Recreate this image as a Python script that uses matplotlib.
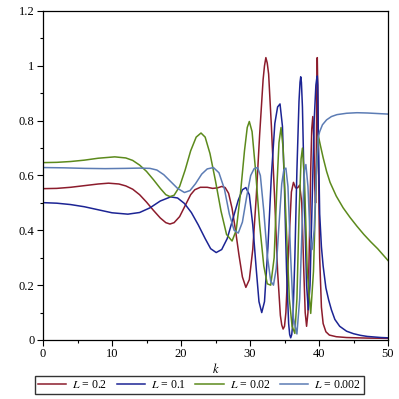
import matplotlib
matplotlib.use("Agg")
import matplotlib.pyplot as plt
from matplotlib.ticker import MultipleLocator, FuncFormatter

plt.rcParams['font.family'] = ['Liberation Serif', 'DejaVu Serif']
plt.rcParams['mathtext.fontset'] = 'stix'

# L = 0.2
k_red = [0, 2, 4, 6, 8, 9.5, 11, 12, 13, 14, 15, 16, 17, 17.8, 18.4, 19, 19.8, 20.6,
         21.4, 22, 22.8, 23.8, 24.6, 25.3, 25.9, 26.4, 26.9, 27.4, 27.9, 28.4, 28.9,
         29.4, 29.9, 30.4, 30.9, 31.4, 31.9, 32.1, 32.3, 32.5, 32.7, 33.1, 33.6, 34.0,
         34.4, 34.6, 34.8, 35.0, 35.2, 35.6, 36.0, 36.3, 36.6, 36.9, 37.2, 37.5, 37.8,
         38.0, 38.2, 38.4, 38.6, 38.8, 38.95, 39.1, 39.25, 39.4, 39.5, 39.6, 39.68,
         39.75, 39.82, 39.9, 40.0, 40.1, 40.35, 40.6, 41.0, 41.5, 42.5, 44, 47, 50]
v_red = [0.552, 0.553, 0.557, 0.563, 0.569, 0.572, 0.569, 0.562, 0.550, 0.530, 0.503,
         0.473, 0.445, 0.428, 0.423, 0.428, 0.450, 0.490, 0.530, 0.548, 0.557, 0.557,
         0.553, 0.555, 0.560, 0.556, 0.535, 0.48, 0.40, 0.31, 0.23, 0.192, 0.22, 0.33,
         0.52, 0.75, 0.95, 1.00, 1.03, 1.01, 0.97, 0.78, 0.50, 0.25, 0.09, 0.055, 0.04,
         0.05, 0.10, 0.33, 0.54, 0.575, 0.555, 0.555, 0.565, 0.50, 0.25, 0.10, 0.05,
         0.10, 0.35, 0.62, 0.77, 0.815, 0.74, 0.55, 0.50, 0.62, 0.90, 1.03, 0.92, 0.70,
         0.48, 0.30, 0.12, 0.06, 0.03, 0.018, 0.012, 0.009, 0.007, 0.006]

# L = 0.1
k_blue = [0, 2, 4, 6, 8, 10, 12.3, 14, 15.5, 17, 18.5, 19.5, 20.5, 21.5, 22.5, 23.5,
          24.3, 25.1, 25.9, 26.7, 27.5, 28.3, 28.9, 29.4, 29.9, 30.4, 30.9, 31.3, 31.7,
          32.1, 32.6, 33.1, 33.6, 34.0, 34.35, 34.7, 35.0, 35.3, 35.6, 35.75, 35.9,
          36.05, 36.2, 36.5, 36.8, 37.1, 37.25, 37.35, 37.45, 37.6, 37.9, 38.2, 38.45,
          38.7, 39.0, 39.3, 39.55, 39.68, 39.75, 39.82, 39.9, 40.1, 40.35, 40.6, 41.0,
          41.4, 41.8, 42.3, 43, 44, 45, 46, 47, 48, 49, 50]
v_blue = [0.501, 0.499, 0.494, 0.486, 0.475, 0.464, 0.459, 0.465, 0.482, 0.507, 0.522,
          0.518, 0.498, 0.465, 0.420, 0.370, 0.333, 0.319, 0.330, 0.370, 0.440, 0.510,
          0.548, 0.556, 0.53, 0.42, 0.26, 0.14, 0.10, 0.14, 0.34, 0.60, 0.79, 0.85,
          0.861, 0.78, 0.55, 0.25, 0.06, 0.02, 0.008, 0.02, 0.06, 0.30, 0.62, 0.87,
          0.94, 0.96, 0.94, 0.85, 0.50, 0.20, 0.11, 0.20, 0.50, 0.80, 0.93, 0.955,
          0.963, 0.93, 0.75, 0.46, 0.34, 0.27, 0.19, 0.146, 0.11, 0.075, 0.05, 0.032,
          0.023, 0.017, 0.013, 0.011, 0.009, 0.008]

# L = 0.02
k_green = [0, 2, 4, 6, 8, 10.4, 12, 13, 14, 15, 16, 17, 17.8, 18.4, 19, 19.8, 20.6,
           21.4, 22.2, 22.9, 23.5, 24.2, 25, 25.8, 26.6, 27.4, 28.0, 28.6, 29.2, 29.6,
           29.9, 30.3, 30.8, 31.4, 32.0, 32.5, 33.0, 33.5, 33.9, 34.2, 34.5, 34.8, 35.2,
           35.7, 36.1, 36.5, 36.8, 37.1, 37.4, 37.6, 37.9, 38.3, 38.8, 39.2, 39.6, 39.9,
           40.2, 40.6, 41.1, 41.6, 42.5, 43.5, 44.5, 45.5, 46.5, 47.5, 48.5, 49.3, 50]
v_green = [0.647, 0.648, 0.651, 0.656, 0.663, 0.668, 0.664, 0.655, 0.638, 0.615, 0.585,
           0.553, 0.530, 0.523, 0.528, 0.560, 0.620, 0.690, 0.740, 0.755, 0.740, 0.680,
           0.580, 0.470, 0.385, 0.361, 0.400, 0.530, 0.690, 0.775, 0.797, 0.760, 0.620,
           0.420, 0.270, 0.205, 0.200, 0.300, 0.560, 0.720, 0.775, 0.700, 0.450, 0.150,
           0.050, 0.024, 0.150, 0.450, 0.660, 0.700, 0.580, 0.250, 0.097, 0.250, 0.600,
           0.745, 0.710, 0.665, 0.615, 0.575, 0.525, 0.482, 0.447, 0.415, 0.385, 0.358,
           0.333, 0.310, 0.290]

# L = 0.002
k_steel = [0, 3, 6, 9, 12, 14, 15.5, 16.5, 17.5, 18.5, 19.5, 20.5, 21.3, 22.1, 23.0,
           23.8, 24.7, 25.5, 26.3, 27.0, 27.7, 28.3, 28.9, 29.5, 30.1, 30.6, 31.1, 31.5,
           32.0, 32.5, 33.0, 33.4, 33.8, 34.2, 34.6, 34.9, 35.2, 35.5, 35.9, 36.3, 36.8,
           37.2, 37.6, 37.9, 38.1, 38.4, 38.7, 39.0, 39.3, 39.6, 39.9, 40.1, 40.5, 41.1,
           41.8, 42.6, 44, 45.5, 47, 48.5, 50]
v_steel = [0.629, 0.628, 0.626, 0.625, 0.626, 0.627, 0.626, 0.620, 0.603, 0.578, 0.553,
           0.538, 0.545, 0.570, 0.605, 0.624, 0.629, 0.610, 0.550, 0.460, 0.400, 0.390,
           0.430, 0.520, 0.600, 0.625, 0.629, 0.600, 0.470, 0.310, 0.215, 0.200, 0.260,
           0.420, 0.570, 0.620, 0.627, 0.560, 0.300, 0.080, 0.022, 0.150, 0.450, 0.620,
           0.640, 0.560, 0.380, 0.330, 0.400, 0.600, 0.740, 0.760, 0.785, 0.803, 0.815,
           0.822, 0.827, 0.829, 0.828, 0.826, 0.824]

fig = plt.figure(figsize=(3.99, 3.99), dpi=100)
ax = fig.add_axes([43 / 399, 59 / 399, 345 / 399, 329 / 399])

ax.plot(k_red, v_red, color='#8c1c2c', lw=1.1, label='$L$ = 0.2')
ax.plot(k_blue, v_blue, color='#1c2494', lw=1.1, label='$L$ = 0.1')
ax.plot(k_green, v_green, color='#5c8a1c', lw=1.1, label='$L$ = 0.02')
ax.plot(k_steel, v_steel, color='#5c7cb4', lw=1.1, label='$L$ = 0.002')

ax.set_xlim(0, 50)
ax.set_ylim(0, 1.2)
ax.xaxis.set_major_locator(MultipleLocator(10))
ax.xaxis.set_minor_locator(MultipleLocator(5))
ax.yaxis.set_major_locator(MultipleLocator(0.2))
ax.yaxis.set_minor_locator(MultipleLocator(0.1))
ax.yaxis.set_major_formatter(FuncFormatter(lambda v, p: f"{v:g}"))
ax.tick_params(which='major', length=4, width=0.8, labelsize=9, pad=2)
ax.tick_params(which='minor', length=2, width=0.8)
ax.set_xlabel('$k$', fontsize=9, labelpad=1)
for s in ax.spines.values():
    s.set_linewidth(0.9)

fig.legend(loc='lower center', bbox_to_anchor=(0.5, 0.012), ncol=4, fontsize=8.5,
           frameon=True, fancybox=False, edgecolor='black', handlelength=2.4,
           handletextpad=0.5, columnspacing=0.8, borderpad=0.25, borderaxespad=0)

fig.savefig('out.png', dpi=100)
